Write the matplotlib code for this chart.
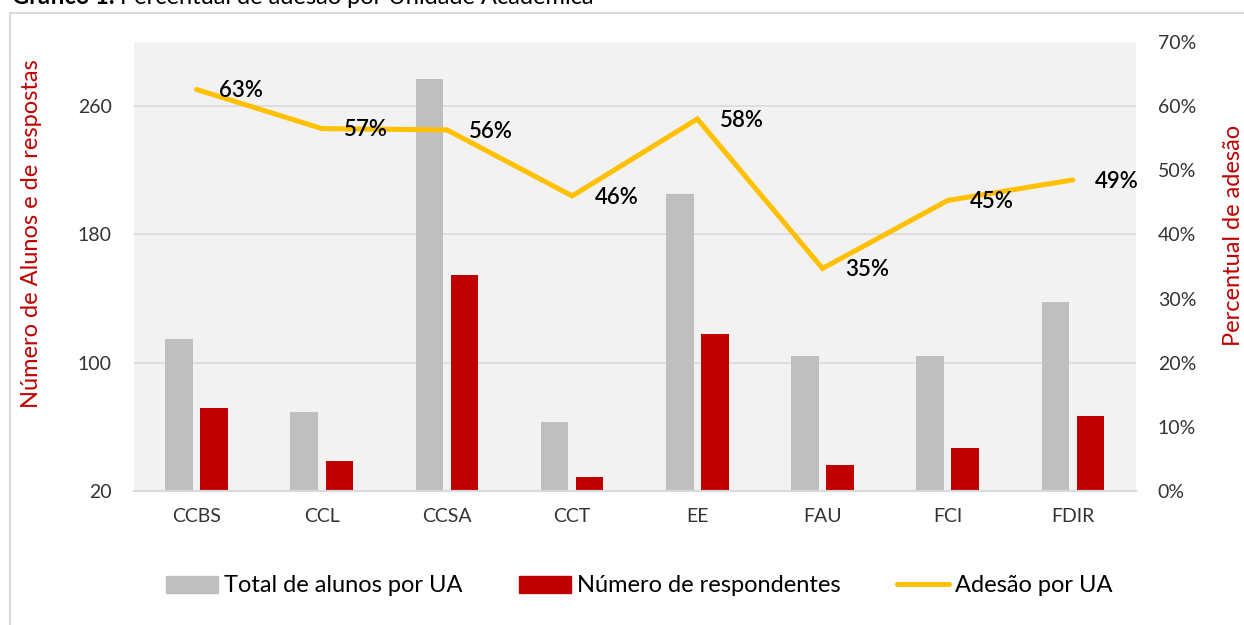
import matplotlib
matplotlib.use("Agg")
import matplotlib.pyplot as plt
from matplotlib.patches import Patch, Rectangle
from matplotlib.lines import Line2D
import numpy as np

plt.rcParams['font.family'] = ['Lato', 'DejaVu Sans']

# dados
unidades = ['CCBS', 'CCL', 'CCSA', 'CCT', 'EE', 'FAU', 'FCI', 'FDIR']
total_alunos = [115, 69, 277, 63, 205, 104, 104, 138]
respondentes = [72, 39, 155, 29, 118, 36, 47, 67]
adesao = [0.626, 0.565, 0.563, 0.460, 0.580, 0.347, 0.453, 0.485]
rotulos = ['63%', '57%', '56%', '46%', '58%', '35%', '45%', '49%']

cinza = '#BFBFBF'
vermelho = '#C00000'
amarelo = '#FFC000'

fig = plt.figure(figsize=(12.44, 6.25), dpi=100)
ax = fig.add_axes([134/1244, 1 - 491/625, 1001.5/1244, 449/625])
ax.set_facecolor('#F2F2F2')

x = np.arange(len(unidades))
ax.bar(x - 0.14, total_alunos, 0.22, color=cinza, zorder=2)
ax.bar(x + 0.14, respondentes, 0.22, color=vermelho, zorder=2)

ax.set_xlim(-0.5, len(unidades) - 0.5)
ax.set_ylim(20, 300)
ax.set_yticks([20, 100, 180, 260])
ax.set_xticks(x)
ax.set_xticklabels(unidades)
ax.grid(axis='y', color='#D9D9D9', linewidth=1.2, zorder=1)
ax.set_axisbelow(True)
for s in ['top', 'left', 'right']:
    ax.spines[s].set_visible(False)
ax.spines['bottom'].set_color('#D9D9D9')
ax.spines['bottom'].set_linewidth(1.5)
ax.tick_params(axis='both', length=0, labelsize=14, labelcolor='#333333')
ax.tick_params(axis='y', pad=16)
ax.tick_params(axis='x', pad=12)
ax.set_ylabel('Número de Alunos e de respostas', color=vermelho, fontsize=17)
ax.yaxis.set_label_coords(-92/1001.5, 0.573)

ax2 = ax.twinx()
ax2.plot(x, adesao, color=amarelo, linewidth=3.6, solid_capstyle='round',
         solid_joinstyle='miter', zorder=3)
ax2.set_ylim(0, 0.7)
ax2.set_yticks(np.arange(0, 0.71, 0.1))
ax2.set_yticklabels([f'{int(round(t*100))}%' for t in np.arange(0, 0.71, 0.1)])
for s in ['top', 'left', 'right', 'bottom']:
    ax2.spines[s].set_visible(False)
ax2.tick_params(axis='y', length=0, labelsize=14, labelcolor='#333333', pad=16)
ax2.set_ylabel('Percentual de adesão', color=vermelho, fontsize=17)
ax2.yaxis.set_label_coords(1 + 87/1001.5, 0.569)

for xi, v, r in zip(x, adesao, rotulos):
    ax2.annotate(r, (xi, v), xytext=(16, -1), textcoords='offset points',
                 ha='left', va='center', fontsize=16, color='black',
                 fontweight='semibold')

handles = [Patch(color=cinza), Patch(color=vermelho),
           Line2D([], [], color=amarelo, linewidth=3.6, solid_capstyle='round')]
nomes = ['Total de alunos por UA', 'Número de respondentes', 'Adesão por UA']
fig.legend(handles, nomes, loc='center', bbox_to_anchor=(0.514, 1 - 586/625),
           ncol=3, frameon=False, fontsize=17, handlelength=2.2, handleheight=0.75,
           handletextpad=0.25, columnspacing=2.4)

# moldura do grafico e titulo cortado (como no original)
fig.patches.append(Rectangle((10/1244, -0.1), 1.2, 1 - 13/625 + 0.1,
                             transform=fig.transFigure, fill=False,
                             edgecolor='#D9D9D9', linewidth=1.5))
t1 = fig.text(12/1244, 1 - 4/625, 'Gráfico 1.', fontsize=17, fontweight='bold',
              va='baseline', ha='left')
fig.canvas.draw()
bb = t1.get_window_extent()
fig.text(bb.x1/1244 + 5/1244, 1 - 4/625, 'Percentual de adesão por Unidade Acadêmica',
         fontsize=17, va='baseline', ha='left')

fig.savefig('out.png', dpi=100)
